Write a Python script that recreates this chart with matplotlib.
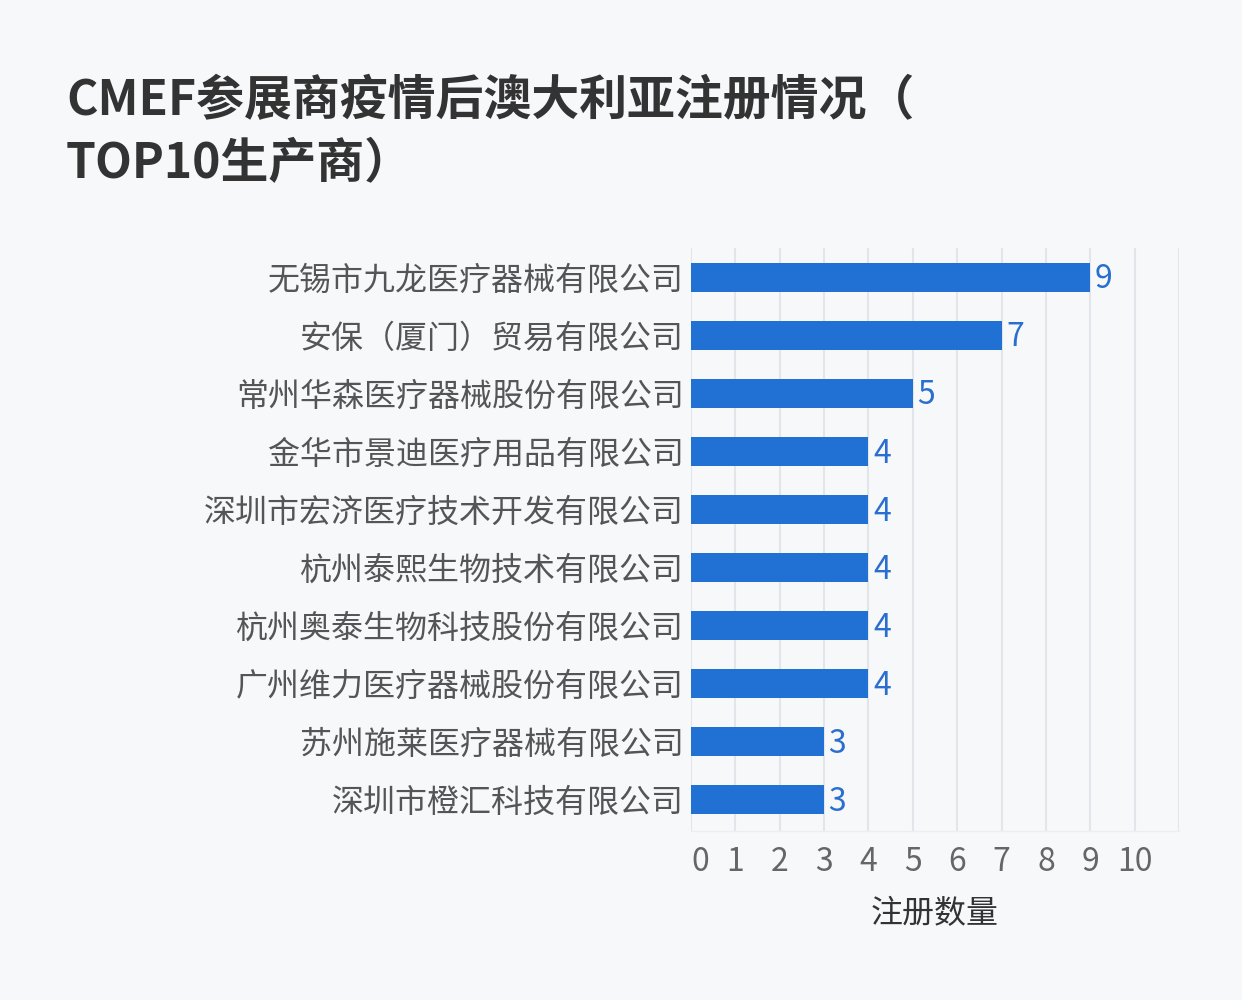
import matplotlib
matplotlib.use("Agg")
import matplotlib.pyplot as plt

plt.rcParams['font.family'] = ['Noto Sans CJK SC', 'DejaVu Sans']

companies = ["无锡市九龙医疗器械有限公司", "安保（厦门）贸易有限公司", "常州华森医疗器械股份有限公司",
             "金华市景迪医疗用品有限公司", "深圳市宏济医疗技术开发有限公司", "杭州泰熙生物技术有限公司",
             "杭州奥泰生物科技股份有限公司", "广州维力医疗器械股份有限公司", "苏州施莱医疗器械有限公司",
             "深圳市橙汇科技有限公司"]
counts = [9, 7, 5, 4, 4, 4, 4, 4, 3, 3]
xticks = list(range(0, 11))
title = "CMEF参展商疫情后澳大利亚注册情况（\nTOP10生产商）"
xlabel = "注册数量"

bg = "#f7f8fa"
fig = plt.figure(figsize=(12.42, 10), dpi=100, facecolor=bg)
ax = fig.add_axes([691/1242, 1-831/1000, (1179-691)/1242, (831-248)/1000], facecolor=bg)

ypos = list(range(len(companies)))
ax.barh(ypos, counts, height=0.5, color="#2170d4", zorder=3)
for y, v in zip(ypos, counts):
    ax.text(v + 0.1, y + 0.04, str(v), va="center", ha="left", fontsize=23, color="#2a6fd0", zorder=4)

ax.set_xlim(0, 11)
ax.set_ylim(9.54, -0.5)
ax.set_yticks(ypos)
ax.set_yticklabels(companies, fontsize=23, color="#555555")
ax.set_xticks(list(range(0, 12)))
ax.set_xticklabels([str(t) for t in xticks] + [""], fontsize=23, color="#666666")
ax.get_xticklabels()[0].set_horizontalalignment("left")
ax.tick_params(axis="both", length=0)
ax.tick_params(axis="y", pad=5)
ax.tick_params(axis="x", pad=11)
ax.grid(axis="x", color="#e3e5ea", linewidth=1.5, zorder=0)
for s in ["top", "right", "left"]:
    ax.spines[s].set_visible(False)
ax.spines["bottom"].set_color("#eceef2")
ax.spines["bottom"].set_linewidth(1)

ax.set_xlabel(xlabel, fontsize=23, color="#333333", labelpad=14)

fig.text(66/1242, 1-76/1000, title, fontsize=34.5, fontweight="bold", color="#333333",
         va="top", ha="left", linespacing=1.35)

fig.savefig("out.png", dpi=100, facecolor=bg)
